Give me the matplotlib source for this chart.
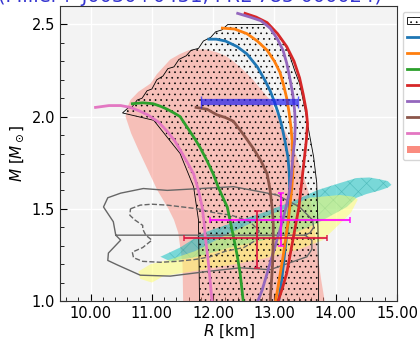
"""Mass-radius diagram: EOS curves against NICER / GW constraints."""

import matplotlib

matplotlib.use("Agg")
import matplotlib.pyplot as plt
from matplotlib.lines import Line2D
from matplotlib.patches import Patch, Polygon
from matplotlib.ticker import FormatStrFormatter, MultipleLocator

# --- constraint bands (R [km], M [Msun]) ---
gw_band_r = [11.52, 11.51, 11.50, 11.43, 11.36, 11.27, 11.09, 10.95, 10.78, 10.66,
             10.57, 10.60, 10.65, 10.78, 10.98, 11.08, 11.19, 11.30, 11.46, 11.60,
             11.74, 11.90, 12.05, 12.20, 12.33, 12.50, 12.65, 12.80, 12.93, 13.00,
             13.13, 13.25, 13.37, 13.46, 13.55, 13.62, 13.65, 13.71, 13.76, 13.82,
             13.85]
gw_band_m = [0.90, 1.00, 1.20, 1.37, 1.44, 1.50, 1.60, 1.70, 1.82, 1.91,
             2.00, 2.05, 2.09, 2.135, 2.18, 2.23, 2.27, 2.31, 2.34, 2.36,
             2.365, 2.363, 2.35, 2.33, 2.30, 2.25, 2.20, 2.14, 2.09, 2.04,
             1.95, 1.87, 1.78, 1.69, 1.60, 1.50, 1.40, 1.24, 1.12, 1.00,
             0.90]

eos_band_r = [11.78, 11.77, 11.76, 11.68, 11.46, 11.03, 10.52, 10.62, 10.66, 10.76,
              10.84, 10.92, 11.00, 11.08, 11.18, 11.26, 11.36, 11.44, 11.56, 11.64,
              11.76, 11.84, 11.96, 12.04, 12.14, 12.24, 12.32, 12.85, 13.00, 13.12,
              13.22, 13.33, 13.41, 13.50, 13.54, 13.64, 13.69, 13.71, 13.72, 13.72]
eos_band_m = [0.90, 1.20, 1.44, 1.62, 1.80, 1.98, 2.02, 2.05, 2.045, 2.09,
              2.10, 2.14, 2.15, 2.20, 2.22, 2.26, 2.27, 2.31, 2.33, 2.36,
              2.37, 2.41, 2.43, 2.46, 2.47, 2.50, 2.50, 2.50, 2.47, 2.42,
              2.36, 2.25, 2.18, 2.04, 1.96, 1.78, 1.64, 1.40, 1.00, 0.90]

nicer_a_r = [11.14, 11.46, 11.84, 12.28, 12.82, 13.37, 13.69, 14.07, 14.34, 14.55,
             14.72, 14.85, 14.91, 14.85, 14.72, 14.50, 14.34, 14.18, 13.69, 13.37,
             12.82, 12.28, 11.74, 11.30]
nicer_a_m = [1.24, 1.29, 1.37, 1.42, 1.48, 1.55, 1.60, 1.64, 1.667, 1.67,
             1.66, 1.65, 1.63, 1.615, 1.60, 1.58, 1.56, 1.51, 1.42, 1.375,
             1.33, 1.29, 1.24, 1.215]

nicer_b_r = [10.78, 10.98, 11.30, 11.70, 12.28, 12.80, 13.09, 13.57, 14.07, 14.30,
             14.36, 14.25, 14.07, 13.79, 13.40, 12.82, 12.28, 11.74, 11.19, 11.00,
             10.81]
nicer_b_m = [1.16, 1.20, 1.225, 1.27, 1.37, 1.45, 1.49, 1.56, 1.575, 1.565,
             1.55, 1.48, 1.42, 1.33, 1.28, 1.23, 1.195, 1.165, 1.135, 1.10,
             1.12]

# posterior contours
cont_solid_r = [10.41, 10.37, 10.21, 10.28, 10.49, 10.86, 11.25, 11.79, 12.33, 12.65,
                13.04, 13.41, 13.62, 13.64, 13.58, 13.50, 10.41, 10.49, 10.29, 10.28,
                10.44, 10.81, 11.30, 11.90, 12.44, 12.93, 13.53, 13.61, 13.61, 13.50]
cont_solid_m = [1.357, 1.43, 1.51, 1.56, 1.585, 1.61, 1.60, 1.61, 1.62, 1.60,
                1.575, 1.51, 1.44, 1.40, 1.37, 1.357, 1.357, 1.33, 1.26, 1.22,
                1.195, 1.14, 1.135, 1.16, 1.18, 1.17, 1.24, 1.28, 1.33, 1.357]
cont_dash_r = [10.65, 10.81, 11.00, 11.25, 11.50, 11.75, 12.00, 12.30, 12.60, 12.75,
               12.70, 12.50, 12.20, 11.95, 11.70, 11.40, 11.14, 10.85, 10.70, 10.68,
               10.85, 11.00, 10.90, 10.85, 10.85, 10.72, 10.64, 10.65]
cont_dash_m = [1.50, 1.52, 1.525, 1.52, 1.51, 1.50, 1.48, 1.465, 1.43, 1.38,
               1.33, 1.29, 1.27, 1.24, 1.225, 1.215, 1.21, 1.215, 1.235, 1.265,
               1.29, 1.33, 1.357, 1.39, 1.41, 1.44, 1.465, 1.50]

# --- EOS mass-radius curves ---
eos_names = ["SLy4", "APR4", "WFF1", "MPA1", "MS1b", "H4", "ENG"]
eos_colors = ["C0", "C1", "C2", "C3", "C4", "C5", "C6"]
eos_r = [
    [11.93, 12.05, 12.20, 12.39, 12.55, 12.72, 12.84, 12.93, 13.00, 13.06, 13.12, 13.17,
     13.22, 13.24, 13.25, 13.24, 13.22, 13.19, 13.16, 13.12, 13.07],
    [12.15, 12.35, 12.55, 12.72, 12.88, 13.00, 13.09, 13.15, 13.20, 13.24, 13.27, 13.29,
     13.30, 13.30, 13.28, 13.25, 13.22, 13.18, 13.14, 13.08, 13.02],
    [10.68, 10.85, 11.02, 11.15, 11.25, 11.36, 11.46, 11.60, 11.70, 11.79, 11.90, 12.00,
     12.08, 12.16, 12.23, 12.28, 12.33, 12.39, 12.44, 12.49],
    [12.52, 12.70, 12.88, 13.05, 13.20, 13.32, 13.41, 13.47, 13.52, 13.54, 13.52, 13.49,
     13.46, 13.43, 13.40, 13.35, 13.30, 13.25, 13.20, 13.13, 13.06],
    [12.40, 12.60, 12.78, 12.93, 13.05, 13.14, 13.20, 13.25, 13.30, 13.33, 13.34, 13.33,
     13.30, 13.28, 13.25, 13.19, 13.12, 13.04, 12.96, 12.88, 12.80, 12.73],
    [11.72, 11.90, 12.06, 12.20, 12.33, 12.50, 12.65, 12.78, 12.88, 12.93, 12.96, 12.98,
     12.98, 12.97, 12.93],
    [10.08, 10.30, 10.49, 10.65, 10.80, 10.93, 11.11, 11.25, 11.37, 11.46, 11.58, 11.68,
     11.76, 11.82, 11.85, 11.87, 11.90, 11.93, 11.95, 11.98],
]
eos_m = [
    [2.42, 2.42, 2.41, 2.38, 2.34, 2.27, 2.20, 2.14, 2.08, 2.02, 1.95, 1.87,
     1.78, 1.70, 1.60, 1.50, 1.42, 1.33, 1.24, 1.12, 1.00],
    [2.48, 2.475, 2.45, 2.41, 2.36, 2.30, 2.24, 2.17, 2.10, 2.02, 1.94, 1.86,
     1.78, 1.69, 1.60, 1.51, 1.42, 1.33, 1.24, 1.12, 1.00],
    [2.07, 2.075, 2.07, 2.055, 2.04, 2.02, 2.00, 1.93, 1.88, 1.83, 1.76, 1.69,
     1.62, 1.56, 1.51, 1.43, 1.35, 1.25, 1.15, 1.00],
    [2.56, 2.54, 2.51, 2.45, 2.38, 2.30, 2.21, 2.12, 2.03, 1.96, 1.87, 1.78,
     1.69, 1.60, 1.51, 1.42, 1.33, 1.24, 1.15, 1.07, 1.00],
    [2.56, 2.54, 2.52, 2.48, 2.42, 2.36, 2.29, 2.21, 2.12, 2.03, 1.96, 1.87,
     1.78, 1.69, 1.60, 1.51, 1.42, 1.33, 1.24, 1.15, 1.06, 1.00],
    [2.05, 2.04, 2.01, 1.995, 1.975, 1.90, 1.83, 1.76, 1.69, 1.60, 1.51, 1.43,
     1.35, 1.20, 1.00],
    [2.05, 2.06, 2.06, 2.05, 2.03, 2.01, 1.97, 1.92, 1.87, 1.82, 1.75, 1.69,
     1.60, 1.51, 1.43, 1.35, 1.27, 1.18, 1.11, 1.00],
]

# --- pulsar measurements: (R, M, R-, R+[, M-, M+]) ---
j0740 = (12.60, 2.08, 0.80, 0.78)
j0030_miller = (13.10, 1.44, 1.15, 1.14, 0.14, 0.145)
j0030_riley = (12.71, 1.34, 1.19, 1.14, 0.16, 0.15)

band_labels = ["Chiral EFT band", "GW170817"]


def draw_mr(ax):
    ax.add_patch(Polygon(list(zip(gw_band_r, gw_band_m)), closed=True,
                         facecolor="salmon", edgecolor="none", alpha=0.45, zorder=1))
    ax.add_patch(Polygon(list(zip(nicer_a_r, nicer_a_m)), closed=True,
                         facecolor="c", edgecolor="#2a9f9f", lw=0, alpha=0.5,
                         hatch="xx", zorder=2))
    ax.add_patch(Polygon(list(zip(nicer_b_r, nicer_b_m)), closed=True,
                         facecolor="#ffff66", edgecolor="none", alpha=0.5, zorder=2))
    ax.add_patch(Polygon(list(zip(eos_band_r, eos_band_m)), closed=True,
                         fill=False, edgecolor="k", lw=0.6, hatch="...", zorder=3))

    ax.plot(cont_solid_r, cont_solid_m, color="#666666", lw=1.0, zorder=3)
    ax.plot(cont_dash_r, cont_dash_m, color="#666666", lw=1.0, ls="--", zorder=3)

    for r, m, c in zip(eos_r, eos_m, eos_colors):
        ax.plot(r, m, color=c, lw=2.0, zorder=4, solid_joinstyle="round")

    r, m, rl, rh = j0740
    ax.errorbar(r, m, xerr=[[rl], [rh]], color="#2020f0", alpha=0.7, lw=4.5,
                capsize=4, capthick=1, zorder=5)
    for (r, m, rl, rh, ml, mh), col in [(j0030_miller, "magenta"), (j0030_riley, "crimson")]:
        ax.errorbar(r, m, xerr=[[rl], [rh]], yerr=[[ml], [mh]], color=col,
                    alpha=0.85, lw=1.5, capsize=2.5, capthick=1.2, zorder=5)


def main():
    plt.rcParams["font.family"] = "DejaVu Sans"
    plt.rcParams["hatch.linewidth"] = 0.45
    fig = plt.figure(figsize=(4.2, 3.4), dpi=100)
    ax = fig.add_axes([60 / 420, 39 / 340, 337 / 420, 295 / 340])
    ax.set_facecolor("#f3f3f3")
    ax.grid(True, color="white", lw=1.0, zorder=0)
    ax.set_axisbelow(True)

    draw_mr(ax)

    ax.set_xlim(9.5, 15.0)
    ax.set_ylim(1.0, 2.6)
    ax.xaxis.set_major_locator(MultipleLocator(1.0))
    ax.xaxis.set_minor_locator(MultipleLocator(0.2))
    ax.yaxis.set_major_locator(MultipleLocator(0.5))
    ax.yaxis.set_minor_locator(MultipleLocator(0.1))
    ax.xaxis.set_major_formatter(FormatStrFormatter("%.2f"))
    ax.tick_params(which="both", direction="in", labelsize=10.5)
    ax.tick_params(which="major", length=5)
    ax.tick_params(which="minor", length=3)
    for s in ax.spines.values():
        s.set_color("#333333")
    ax.set_xlabel(r"$R$ [km]", fontsize=11, labelpad=1)
    ax.set_ylabel(r"$M$ [$M_\odot$]", fontsize=11, labelpad=4)

    handles = [Patch(facecolor="white", edgecolor="k", hatch="...", lw=0.6)]
    handles += [Line2D([], [], color=c, lw=2.0) for c in eos_colors]
    handles += [Patch(facecolor="salmon", alpha=0.9)]
    ax.legend(handles, [band_labels[0]] + eos_names + [band_labels[1]],
              loc="upper left", bbox_to_anchor=(403 / 420, 328 / 340),
              bbox_transform=fig.transFigure, borderaxespad=0, fontsize=8,
              labelspacing=0.55, frameon=True, edgecolor="#cccccc")

    fig.text(190 / 420, 337.5 / 340, "(Miller+ J0030+0451, PRL 785 000024)",
             ha="center", va="baseline", color="#3535d0", fontsize=14)

    fig.savefig("out.png", dpi=100)


if __name__ == "__main__":
    main()
